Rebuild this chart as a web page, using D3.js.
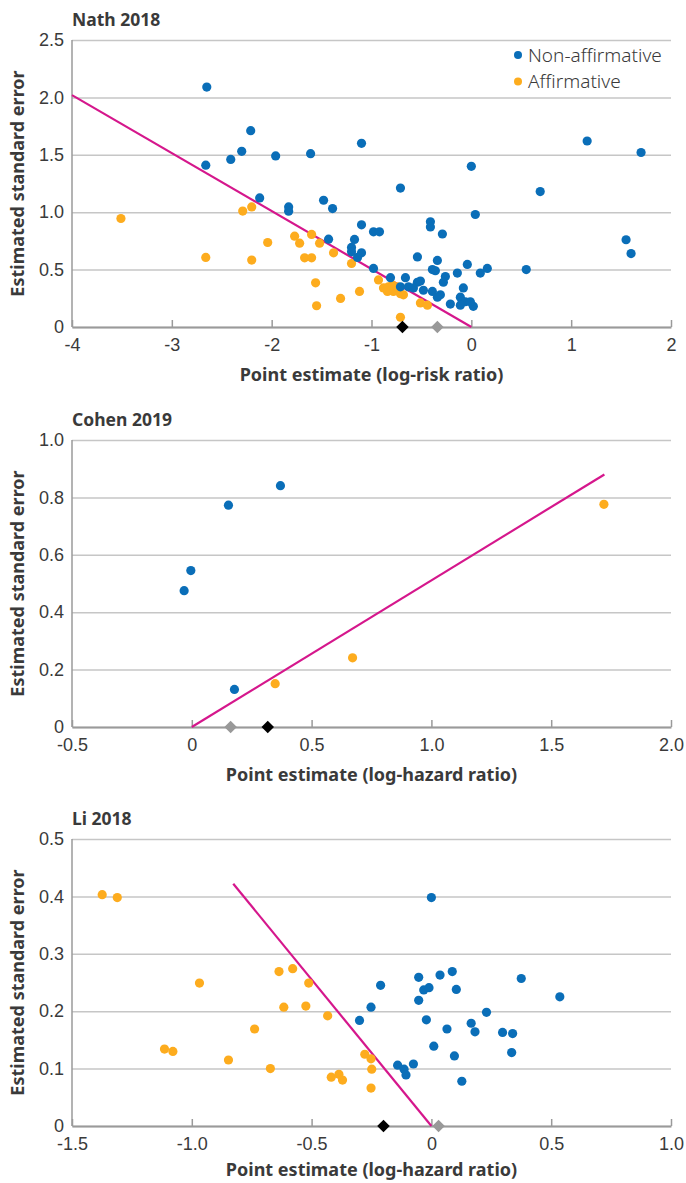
<!DOCTYPE html>
<html><head><meta charset="utf-8">
<script src="https://cdn.jsdelivr.net/npm/d3@7/dist/d3.min.js"></script>
<style>
html,body{margin:0;padding:0;background:#fff;}
svg{display:block;font-family:"Noto Sans","Open Sans",sans-serif;}
</style></head>
<body>
<svg id="chart" width="686" height="1183"></svg>
<script>
// ---- Nath 2018 ----
const nathTitle = "Nath 2018";
const nathXLabel = "Point estimate (log-risk ratio)";
const nathXTicks = [-4,-3,-2,-1,0,1,2];
const nathXTickLabels = ["-4","-3","-2","-1","0","1","2"];
const nathYTicks = [0,0.5,1.0,1.5,2.0,2.5];
const nathYTickLabels = ["0","0.5","1.0","1.5","2.0","2.5"];
const nathNon = [
 [-2.65,2.09],[-2.21,1.71],[-2.30,1.53],[-2.41,1.46],[-2.66,1.41],[-1.96,1.49],[-1.61,1.51],[-1.10,1.60],
 [1.16,1.62],[1.70,1.52],[0.00,1.40],[0.69,1.18],[0.04,0.98],[1.55,0.76],[1.60,0.64],[-0.71,1.21],
 [-2.12,1.124],[-1.83,1.046],[-1.83,1.009],[-1.48,1.104],[-1.39,1.032],[-1.10,0.89],[-0.98,0.829],[-0.92,0.829],
 [-1.43,0.765],[-1.17,0.763],[-1.20,0.693],[-1.20,0.655],[-1.10,0.646],[-1.14,0.606],
 [-0.41,0.916],[-0.41,0.872],[-0.29,0.81],
 [-0.54,0.61],[-0.34,0.58],[-0.39,0.50],[-0.36,0.49],[-0.14,0.47],[-0.04,0.545],[0.16,0.51],[0.09,0.47],[0.55,0.50],
 [-0.66,0.43],[-0.81,0.43],[-0.54,0.39],[-0.51,0.40],[-0.26,0.44],[-0.28,0.39],[-0.98,0.51],
 [-0.71,0.35],[-0.63,0.35],[-0.58,0.34],[-0.48,0.32],[-0.39,0.31],[-0.31,0.28],[-0.34,0.26],
 [-0.08,0.34],[-0.11,0.26],[-0.09,0.22],[-0.06,0.22],[-0.21,0.20],[-0.11,0.19],[0.02,0.18],[-0.01,0.22]
];
const nathAff = [
 [-3.51,0.945],[-2.66,0.606],[-2.29,1.01],[-2.20,1.046],[-2.20,0.583],[-2.04,0.736],[-1.77,0.791],[-1.72,0.73],
 [-1.60,0.806],[-1.52,0.73],[-1.67,0.603],[-1.60,0.603],[-1.38,0.646],[-1.56,0.385],[-1.55,0.185],[-1.31,0.249],
 [-1.20,0.553],[-1.12,0.31],[-0.93,0.41],[-0.88,0.34],[-0.83,0.35],[-0.84,0.31],[-0.78,0.31],[-0.71,0.29],
 [-0.68,0.28],[-0.79,0.365],[-0.74,0.35],[-0.51,0.21],[-0.44,0.19],[-0.71,0.085]
];
const nathLine = [[-4,2.02],[0,0]];
const nathDiamonds = [[-0.69,"black"],[-0.34,"gray"]];

// ---- Cohen 2019 ----
const cohenTitle = "Cohen 2019";
const cohenXLabel = "Point estimate (log-hazard ratio)";
const cohenXTicks = [-0.5,0,0.5,1.0,1.5,2.0];
const cohenXTickLabels = ["-0.5","0","0.5","1.0","1.5","2.0"];
const cohenYTicks = [0,0.2,0.4,0.6,0.8,1.0];
const cohenYTickLabels = ["0","0.2","0.4","0.6","0.8","1.0"];
const cohenNon = [[0.37,0.841],[0.153,0.773],[-0.004,0.545],[-0.032,0.475],[0.178,0.131]];
const cohenAff = [[1.72,0.776],[0.671,0.241],[0.348,0.151]];
const cohenLine = [[0,0],[1.722,0.88]];
const cohenDiamonds = [[0.162,"gray"],[0.317,"black"]];

// ---- Li 2018 ----
const liTitle = "Li 2018";
const liXLabel = "Point estimate (log-hazard ratio)";
const liXTicks = [-1.5,-1.0,-0.5,0,0.5,1.0];
const liXTickLabels = ["-1.5","-1.0","-0.5","0","0.5","1.0"];
const liYTicks = [0,0.1,0.2,0.3,0.4,0.5];
const liYTickLabels = ["0","0.1","0.2","0.3","0.4","0.5"];
const liNon = [
 [0.000,0.398],[-0.212,0.245],[-0.252,0.207],[-0.30,0.184],[-0.141,0.106],[-0.114,0.099],[-0.106,0.089],[-0.075,0.108],
 [-0.053,0.259],[-0.032,0.237],[-0.010,0.241],[-0.053,0.219],[-0.021,0.185],[0.010,0.139],[0.036,0.263],[0.087,0.269],
 [0.104,0.238],[0.065,0.169],[0.096,0.122],[0.127,0.078],[0.166,0.179],[0.182,0.164],[0.230,0.198],[0.297,0.163],
 [0.339,0.161],[0.335,0.128],[0.375,0.257],[0.536,0.225]
];
const liAff = [
 [-1.374,0.403],[-1.311,0.398],[-0.968,0.249],[-1.114,0.134],[-1.079,0.130],[-0.847,0.115],[-0.738,0.169],[-0.672,0.100],
 [-0.636,0.269],[-0.579,0.274],[-0.616,0.207],[-0.512,0.249],[-0.524,0.209],[-0.433,0.192],[-0.418,0.085],[-0.386,0.090],
 [-0.371,0.080],[-0.278,0.125],[-0.252,0.117],[-0.249,0.099],[-0.252,0.066]
];
const liLine = [[-0.827,0.422],[0,0]];
const liDiamonds = [[-0.20,"black"],[0.03,"gray"]];

const yAxisLabel = "Estimated standard error";
const legendLabels = ["Non-affirmative","Affirmative"];

// ---- styles ----
const BLUE = "#0a6eb8", ORANGE = "#fdac1e", MAGENTA = "#d5178c";
const TEXT = "#3a3a3a";
const svg = d3.select("#chart");

const panels = [
  {title:nathTitle, xl:nathXLabel, xt:nathXTicks, xtl:nathXTickLabels, yt:nathYTicks, ytl:nathYTickLabels,
   non:nathNon, aff:nathAff, line:nathLine, dia:nathDiamonds, top:40, legend:true},
  {title:cohenTitle, xl:cohenXLabel, xt:cohenXTicks, xtl:cohenXTickLabels, yt:cohenYTicks, ytl:cohenYTickLabels,
   non:cohenNon, aff:cohenAff, line:cohenLine, dia:cohenDiamonds, top:440},
  {title:liTitle, xl:liXLabel, xt:liXTicks, xtl:liXTickLabels, yt:liYTicks, ytl:liYTickLabels,
   non:liNon, aff:liAff, line:liLine, dia:liDiamonds, top:839}
];

const L = 72, R = 671, H = 287;

panels.forEach((p, pi) => {
  const g = svg.append("g");
  const x = d3.scaleLinear().domain(d3.extent(p.xt)).range([L, R]);
  const y = d3.scaleLinear().domain(d3.extent(p.yt)).range([p.top + H, p.top]);
  const bottom = p.top + H;

  // gridlines
  g.append("g").attr("transform", `translate(${L},0)`)
    .call(d3.axisLeft(y).tickValues(p.yt).tickSize(-(R - L)).tickFormat((d,i)=>p.ytl[i]))
    .call(a => {
      a.select(".domain").remove();
      a.selectAll(".tick line").attr("stroke", "#c6c6c6").attr("stroke-width", 1.5);
      a.selectAll(".tick text").attr("x", -8).attr("fill", TEXT)
        .style("font-size", "18px").style("font-weight", 300);
    });

  // y axis line
  g.append("line").attr("x1", L).attr("x2", L).attr("y1", p.top).attr("y2", bottom)
    .attr("stroke", "#9a9a9a").attr("stroke-width", 1.5);

  // x axis
  g.append("g").attr("transform", `translate(0,${bottom})`)
    .call(d3.axisBottom(x).tickValues(p.xt).tickSizeInner(-7).tickSizeOuter(0).tickPadding(0).tickFormat((d,i)=>p.xtl[i]))
    .call(a => {
      a.select(".domain").attr("stroke", "#9a9a9a").attr("stroke-width", 2);
      a.selectAll(".tick line").attr("stroke", "#9a9a9a").attr("stroke-width", 1.5);
      a.selectAll(".tick text").attr("y", 18).attr("dy", "0.35em").attr("fill", TEXT)
        .style("font-size", "18px").style("font-weight", 300);
    });

  // regression line
  g.append("path").datum(p.line)
    .attr("d", d3.line().x(d => x(d[0])).y(d => y(d[1])))
    .attr("stroke", MAGENTA).attr("stroke-width", 2.2).attr("fill", "none");

  // points
  g.append("g").selectAll("circle").data(p.aff).join("circle")
    .attr("cx", d => x(d[0])).attr("cy", d => y(d[1])).attr("r", 4.6).attr("fill", ORANGE);
  g.append("g").selectAll("circle").data(p.non).join("circle")
    .attr("cx", d => x(d[0])).attr("cy", d => y(d[1])).attr("r", 4.6).attr("fill", BLUE);

  // diamonds
  const sym = d3.symbol().type(d3.symbolDiamond2).size(100);
  g.append("g").selectAll("path").data(p.dia).join("path")
    .attr("transform", d => `translate(${x(d[0])},${bottom})`)
    .attr("d", sym)
    .attr("fill", d => d[1] === "black" ? "#000" : "#999");

  // titles
  g.append("text").attr("x", L).attr("y", p.top - 20).attr("dy", "0.35em")
    .attr("fill", TEXT).style("font-size", "17.5px").style("font-weight", 700).text(p.title);
  g.append("text").attr("x", (L + R) / 2).attr("y", bottom + (pi === 2 ? 44 : 48)).attr("dy", "0.35em")
    .attr("text-anchor", "middle").attr("fill", TEXT)
    .style("font-size", "18px").style("font-weight", 700).text(p.xl);
  g.append("text").attr("transform", `translate(18,${p.top + H / 2}) rotate(-90)`)
    .attr("dy", "0.35em").attr("text-anchor", "middle").attr("fill", TEXT)
    .style("font-size", "18px").style("font-weight", 700).text(yAxisLabel);

  if (p.legend) {
    const lg = g.append("g");
    legendLabels.forEach((t, i) => {
      const cy = 55 + i * 26.5;
      lg.append("circle").attr("cx", 518).attr("cy", cy).attr("r", 4).attr("fill", i === 0 ? BLUE : ORANGE);
      lg.append("text").attr("x", 528).attr("y", cy).attr("dy", "0.35em").attr("fill", TEXT)
        .style("font-size", "19px").style("font-weight", 300).text(t);
    });
  }
});
</script>
</body></html>
